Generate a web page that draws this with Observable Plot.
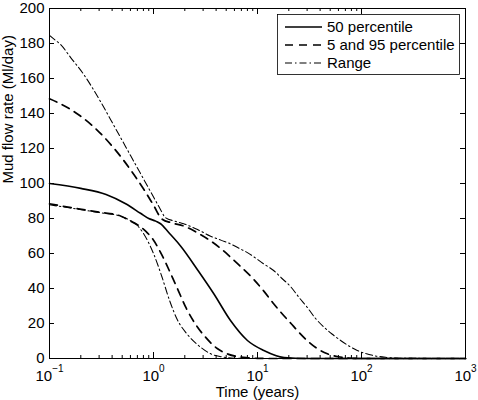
<!DOCTYPE html>
<html>
<head>
<meta charset="utf-8">
<script src="https://cdn.jsdelivr.net/npm/d3@7"></script>
<script src="https://cdn.jsdelivr.net/npm/@observablehq/plot@0.6"></script>
<style>
  body { margin: 0; background: #fff; }
  #chart svg { display: block; }
</style>
</head>
<body>
<div id="chart"></div>
<script>
// Mud flow rate (Ml/day) against time (years), log time axis.

// 50th percentile
const medianTime = [0.1, 0.2, 0.35, 0.54, 0.75, 0.9, 1.05, 1.17, 1.4, 1.82, 2.7, 3.8, 5.5, 8, 11.5, 18, 30, 1000];
const medianRate = [100, 97.2, 93.7, 88.4, 83, 80, 78.5, 77, 72, 64.3, 50, 37, 21.7, 10.3, 4.6, 0.6, 0, 0];

// 95th percentile
const p95Time = [0.1, 0.15, 0.2, 0.3, 0.4, 0.5, 0.65, 0.8, 1.0, 1.2, 1.5, 2.0, 2.7, 3.5, 4.5, 5.5, 6.9, 9.1, 11.5, 14.3, 17, 21, 25, 30, 38, 47, 60, 75, 100, 1000];
const p95Rate = [148.4, 143.3, 138.4, 129.4, 121.4, 114.3, 105, 97, 87.6, 79.8, 77.5, 75.5, 71.5, 67.4, 62.5, 57.9, 52.5, 45.5, 38.5, 31.3, 26, 20, 15, 10.3, 5.5, 2.7, 1, 0.3, 0, 0];

// 5th percentile
const p5Time = [0.1, 0.19, 0.3, 0.47, 0.58, 0.72, 0.85, 0.99, 1.21, 1.46, 1.74, 2.07, 2.58, 3.16, 4.1, 5.2, 6.5, 8, 10, 14, 1000];
const p5Rate = [88.4, 85.5, 83.6, 81.7, 79, 76, 72.5, 68, 58.9, 48.6, 38.5, 28.6, 18.9, 12.2, 5.7, 2.5, 1, 0.4, 0.1, 0, 0];

// Range: maximum
const maxTime = [0.1, 0.1142, 0.1276, 0.1592, 0.2123, 0.309, 0.431, 0.6, 0.837, 1.044, 1.166, 1.3, 1.6, 1.95, 2.65, 3.5, 4.5, 5.5, 6.9, 8, 11.5, 14.3, 17, 21, 25, 30, 36, 43.6, 52, 63, 75, 91, 110, 130, 170, 250, 1000];
const maxRate = [184.6, 181.8, 179.5, 172.1, 162.5, 146.9, 131.5, 116.1, 100.6, 90.3, 85.2, 80.5, 78.5, 77, 73.7, 70, 67.5, 65.5, 62.5, 60.5, 54, 50.3, 46, 40.8, 35, 29.3, 23, 17.9, 14, 10.3, 7.3, 4.6, 2.8, 1.7, 0.7, 0.1, 0];

// Range: minimum
const minTime = [0.1, 0.19, 0.3, 0.47, 0.6, 0.7, 0.78, 0.9, 1.0, 1.2, 1.43, 1.7, 2.1, 2.9, 3.6, 4.5, 6, 8, 1000];
const minRate = [87.8, 85.3, 83.4, 81.5, 78.8, 76, 72.5, 66, 60, 47, 33, 22, 14, 6, 2.5, 1, 0.2, 0, 0];

// Axis ticks
const xMajorTicks = [0.1, 1, 10, 100, 1000];
const xMinorTicks = [1, 10, 100].flatMap(d => [2, 3, 4, 5, 6, 7, 8, 9].map(k => k * d / 10));
const yTicks = [0, 20, 40, 60, 80, 100, 120, 140, 160, 180, 200];

const xLabel = "Time (years)";
const yLabel = "Mud flow rate (Ml/day)";

const legendNames = ["50 percentile", "5 and 95 percentile", "Range"];

const toRows = (ts, qs) => ts.map((t, i) => ({t, q: qs[i]}));

const styles = {
  solid: {stroke: "black", strokeWidth: 1.6},
  dashed: {stroke: "black", strokeWidth: 1.7, strokeDasharray: "8,6"},
  dashdot: {stroke: "black", strokeWidth: 1.05, strokeDasharray: "7,3,1.5,3"}
};

const series = [
  {rows: toRows(medianTime, medianRate), style: styles.solid},
  {rows: toRows(p95Time, p95Rate), style: styles.dashed},
  {rows: toRows(p5Time, p5Rate), style: styles.dashed},
  {rows: toRows(maxTime, maxRate), style: styles.dashdot},
  {rows: toRows(minTime, minRate), style: styles.dashdot}
];
const legendStyles = [styles.solid, styles.dashed, styles.dashdot];

const font = "'Liberation Sans', Arial, Helvetica, sans-serif";
const W = 478, H = 400;
const mt = 8, mr = 13, mb = 42, ml = 49;
const innerW = W - ml - mr, innerH = H - mt - mb;

const chart = Plot.plot({
  width: W,
  height: H,
  marginTop: mt,
  marginRight: mr,
  marginBottom: mb,
  marginLeft: ml,
  style: {fontFamily: font, fontSize: "15px", background: "white", color: "black"},
  x: {type: "log", domain: [0.1, 1000]},
  y: {domain: [0, 200]},
  marks: [
    ...series.map(s => Plot.line(s.rows, {x: "t", y: "q", curve: "monotone-x", ...s.style})),
    Plot.frame({stroke: "black", strokeWidth: 1}),
    // inward ticks on all four sides
    Plot.ruleX(xMajorTicks, {x: d => d, insetTop: innerH - 6, stroke: "black"}),
    Plot.ruleX(xMajorTicks, {x: d => d, insetBottom: innerH - 6, stroke: "black"}),
    Plot.ruleX(xMinorTicks, {x: d => d, insetTop: innerH - 3, stroke: "black"}),
    Plot.ruleX(xMinorTicks, {x: d => d, insetBottom: innerH - 3, stroke: "black"}),
    Plot.ruleY(yTicks, {y: d => d, insetRight: innerW - 5, stroke: "black"}),
    Plot.ruleY(yTicks, {y: d => d, insetLeft: innerW - 5, stroke: "black"}),
    Plot.axisX({ticks: xMajorTicks, tickSize: 0, tickPadding: 12, fontSize: 15,
      tickFormat: d => `10^${Math.round(Math.log10(d))}`, label: null}),
    Plot.axisY({ticks: yTicks, tickSize: 0, tickPadding: 5, fontSize: 15, label: null}),
    Plot.text([xLabel], {frameAnchor: "bottom", dy: 34, fontSize: 15, fill: "black", lineAnchor: "middle"}),
    Plot.text([yLabel], {frameAnchor: "left", dx: -41, rotate: -90, fontSize: 15, fill: "black", lineAnchor: "middle"})
  ]
});

document.getElementById("chart").append(chart);

const svg = d3.select(chart);

// power-of-ten tick labels: "10" with a raised exponent
svg.selectAll('g[aria-label="x-axis tick label"] text').each(function() {
  const parts = this.textContent.split("^");
  if (parts.length !== 2) return;
  const exp = parts[1].replace("-", "\u2212");
  const t = d3.select(this);
  t.text(null);
  t.append("tspan").text(parts[0]);
  t.append("tspan").attr("font-size", 10).attr("dy", "-0.9em").text(exp);
});

// legend box in the upper right corner
const lg = svg.append("g")
  .attr("font-family", font).attr("font-size", 15).attr("text-anchor", "start");
lg.append("rect")
  .attr("x", 277.5).attr("y", 14.5).attr("width", 182).attr("height", 60)
  .attr("fill", "white").attr("stroke", "black").attr("stroke-width", 0.8);
legendNames.forEach((name, i) => {
  const y = 27 + i * 18;
  const st = legendStyles[i];
  lg.append("line")
    .attr("x1", 285).attr("x2", 322).attr("y1", y).attr("y2", y)
    .attr("stroke", st.stroke).attr("stroke-width", st.strokeWidth)
    .attr("stroke-dasharray", st.strokeDasharray || null);
  lg.append("text").attr("x", 327).attr("y", y).attr("dy", "0.35em")
    .attr("text-anchor", "start").attr("fill", "black").text(name);
});
</script>
</body>
</html>
